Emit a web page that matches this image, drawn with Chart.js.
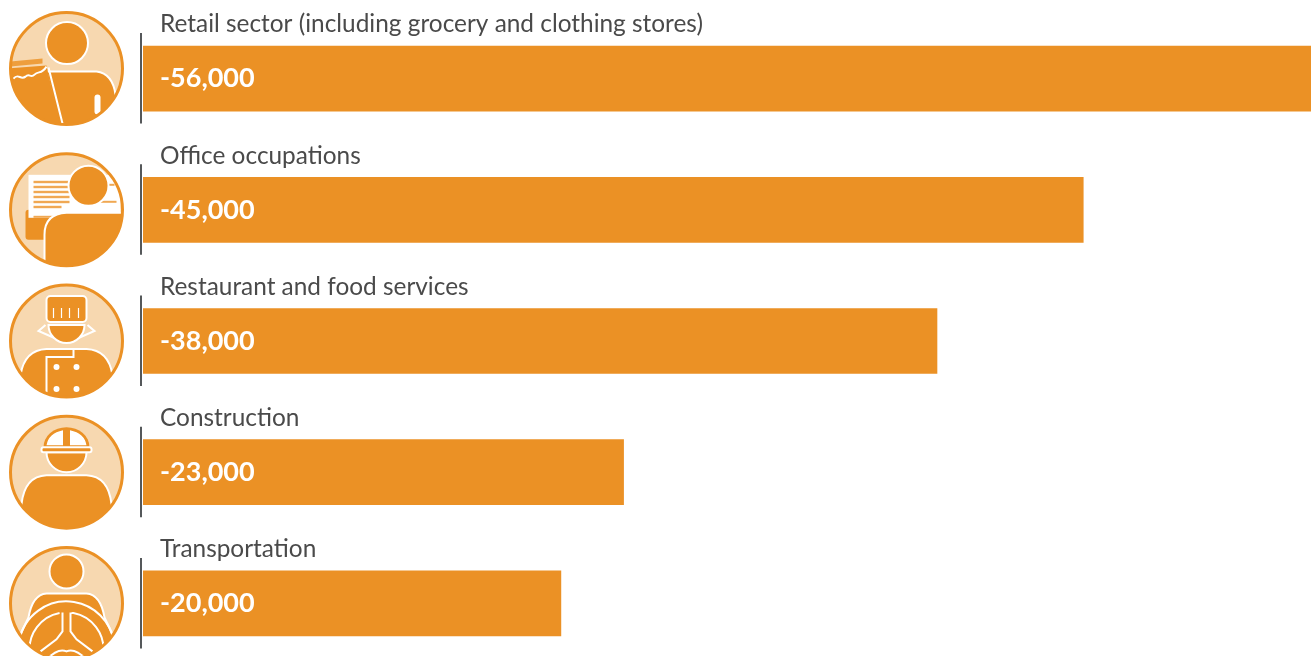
<!DOCTYPE html>
<html>
<head>
<meta charset="utf-8">
<script src="https://cdn.jsdelivr.net/npm/chart.js@4/dist/chart.umd.min.js"></script>
<style>
    html, body { margin: 0; padding: 0; background: #fff; width: 1311px; height: 656px; overflow: hidden; }
    #wrap { width: 1311px; height: 656px; overflow: hidden; }
    canvas { display: block; filter: blur(0.6px); }
</style>
</head>
<body>
<div id="wrap"><canvas id="grafico" width="1311" height="669"></canvas></div>
<script>
const categorias = [
    'Retail sector (including grocery and clothing stores)',
    'Office occupations',
    'Restaurant and food services',
    'Construction',
    'Transportation'
];
const empregos = [-56000, -45000, -38000, -23000, -20000];
const icones = ['caixa', 'escritorio', 'cozinheiro', 'obra', 'motorista'];

const LARANJA = '#eb9125';
const CLARO = '#f7d8b0';
const BRANCO = '#fff';
const TRACO = 2;

// each icon is drawn around (0,0) inside a circle of radius 57
const desenhos = {
    caixa(ctx) {
        corpo(ctx, () => {
            ctx.moveTo(-20, 3);
            ctx.lineTo(30, 3);
            ctx.quadraticCurveTo(46, 5, 49, 26);
            ctx.lineTo(60, 60);
            ctx.lineTo(-8, 60);
            ctx.closePath();
        });
        // receipt
        ctx.fillStyle = LARANJA;
        ctx.beginPath();
        ctx.moveTo(-60, 0);
        ctx.lineTo(-20, -3);
        ctx.lineTo(-6, 60);
        ctx.lineTo(-60, 60);
        ctx.closePath();
        ctx.fill();
        ctx.fillStyle = '#ee9e3d';
        ctx.beginPath();
        ctx.moveTo(-56, -7);
        ctx.lineTo(-24, -10);
        ctx.lineTo(-24, -5);
        ctx.lineTo(-56, -2);
        ctx.closePath();
        ctx.fill();
        ctx.strokeStyle = BRANCO;
        ctx.lineWidth = TRACO;
        ctx.beginPath();
        ctx.moveTo(-53, 10);
        ctx.bezierCurveTo(-48, 4, -46, 12, -41, 8);
        ctx.bezierCurveTo(-37, 4, -36, 10, -32, 6);
        ctx.bezierCurveTo(-28, 2, -25, 6, -20, -2);
        ctx.moveTo(-18, -1);
        ctx.lineTo(-4, 55);
        ctx.stroke();
        ctx.fillStyle = BRANCO;
        ctx.beginPath();
        ctx.roundRect(28, 26, 6, 20, 3);
        ctx.fill();
        cabeca(ctx, 0.5, -25.5, 21);
    },
    escritorio(ctx) {
        ctx.fillStyle = LARANJA;
        ctx.beginPath();
        ctx.roundRect(-41, 0, 34, 30, 3);
        ctx.fill();
        ctx.fillStyle = BRANCO;
        ctx.fillRect(-38, -35, 92, 43);
        ctx.fillStyle = '#f0a853';
        [-29, -24, -19, -14, -9, -4].forEach((y, i) => {
            ctx.fillRect(-33, y, i == 5 ? 28 : 36, 2.4);
        });
        ctx.fillRect(28, -9, 22, 2);
        ctx.fillRect(30, -26, 18, 2);
        ctx.fillRect(-33, 6, 20, 2);
        corpo(ctx, () => {
            ctx.moveTo(-22, 60);
            ctx.lineTo(-22, 25);
            ctx.quadraticCurveTo(-22, 4, 0, 3);
            ctx.lineTo(60, 3);
            ctx.lineTo(60, 60);
            ctx.closePath();
        });
        cabeca(ctx, 22, -24, 20);
    },
    cozinheiro(ctx) {
        corpo(ctx, () => {
            ctx.moveTo(-46, 34);
            ctx.quadraticCurveTo(-42, 9, -20, 8);
            ctx.lineTo(20, 8);
            ctx.quadraticCurveTo(42, 9, 46, 34);
            ctx.lineTo(60, 60);
            ctx.lineTo(-60, 60);
            ctx.closePath();
        });
        // collar
        ctx.strokeStyle = BRANCO;
        ctx.lineWidth = TRACO;
        ctx.beginPath();
        ctx.moveTo(-21, -16);
        ctx.lineTo(-28, -10);
        ctx.lineTo(-12, -3);
        ctx.moveTo(21, -16);
        ctx.lineTo(28, -10);
        ctx.lineTo(12, -3);
        ctx.stroke();
        // face
        ctx.fillStyle = LARANJA;
        ctx.beginPath();
        ctx.arc(0, -16, 18, 0, Math.PI);
        ctx.closePath();
        ctx.fill();
        ctx.stroke();
        // hat
        ctx.beginPath();
        ctx.roundRect(-20, -45, 40, 26, 4);
        ctx.fill();
        ctx.stroke();
        ctx.beginPath();
        [-13, -5, 3, 12].forEach(x => {
            ctx.moveTo(x, -33);
            ctx.lineTo(x, -23);
        });
        ctx.lineWidth = 1.2;
        ctx.stroke();
        // jacket
        ctx.lineWidth = TRACO;
        ctx.beginPath();
        ctx.moveTo(7, 8);
        ctx.lineTo(7, 16);
        ctx.lineTo(-20, 16);
        ctx.lineTo(-20, 56);
        ctx.stroke();
        ctx.fillStyle = BRANCO;
        [[-10, 26], [10, 26], [-10, 48], [10, 48]].forEach(([x, y]) => {
            ctx.beginPath();
            ctx.arc(x, y, 3, 0, Math.PI * 2);
            ctx.fill();
        });
    },
    obra(ctx) {
        corpo(ctx, () => {
            ctx.moveTo(-45, 32);
            ctx.quadraticCurveTo(-42, 4, -20, 3);
            ctx.lineTo(20, 3);
            ctx.quadraticCurveTo(42, 4, 45, 32);
            ctx.lineTo(60, 60);
            ctx.lineTo(-60, 60);
            ctx.closePath();
        });
        // face
        ctx.fillStyle = LARANJA;
        ctx.strokeStyle = BRANCO;
        ctx.lineWidth = TRACO;
        ctx.beginPath();
        ctx.arc(0, -20, 20, 0, Math.PI);
        ctx.closePath();
        ctx.fill();
        ctx.stroke();
        // helmet
        ctx.beginPath();
        ctx.ellipse(0, -25, 23, 20, 0, Math.PI, 0);
        ctx.closePath();
        ctx.fill();
        ctx.fillStyle = BRANCO;
        ctx.beginPath();
        ctx.moveTo(-20, -27);
        ctx.quadraticCurveTo(-18, -39, -3.5, -42);
        ctx.lineTo(-3.5, -27);
        ctx.closePath();
        ctx.moveTo(20, -27);
        ctx.quadraticCurveTo(18, -39, 3.5, -42);
        ctx.lineTo(3.5, -27);
        ctx.closePath();
        ctx.fill();
        ctx.fillStyle = LARANJA;
        ctx.beginPath();
        ctx.roundRect(-25, -25, 50, 5, 2);
        ctx.fill();
        ctx.stroke();
    },
    motorista(ctx) {
        corpo(ctx, () => {
            ctx.moveTo(-38, 14);
            ctx.quadraticCurveTo(-34, -9, -20, -10);
            ctx.lineTo(20, -10);
            ctx.quadraticCurveTo(34, -9, 38, 14);
            ctx.lineTo(60, 60);
            ctx.lineTo(-60, 60);
            ctx.closePath();
        });
        // steering wheel
        ctx.strokeStyle = BRANCO;
        ctx.lineWidth = TRACO;
        ctx.beginPath();
        ctx.arc(0, 46, 48, Math.PI * 1.05, Math.PI * 1.95);
        ctx.moveTo(-37, 50);
        ctx.arc(0, 46, 37, Math.PI * 0.97, Math.PI * 1.44);
        ctx.moveTo(5, 9.5);
        ctx.arc(0, 46, 37, Math.PI * 1.56, Math.PI * 2.03);
        ctx.moveTo(-4, 9);
        ctx.lineTo(-4, 28);
        ctx.lineTo(-10, 36);
        ctx.lineTo(-26, 48);
        ctx.moveTo(4, 9);
        ctx.lineTo(4, 28);
        ctx.lineTo(10, 36);
        ctx.lineTo(26, 48);
        ctx.moveTo(-20, 56);
        ctx.quadraticCurveTo(-8, 44, 0, 48);
        ctx.quadraticCurveTo(8, 44, 20, 56);
        ctx.stroke();
        cabeca(ctx, 0, -32, 17);
    }
};

function corpo(ctx, caminho) {
    ctx.fillStyle = LARANJA;
    ctx.strokeStyle = BRANCO;
    ctx.lineWidth = TRACO;
    ctx.beginPath();
    caminho();
    ctx.fill();
    ctx.stroke();
}

function cabeca(ctx, x, y, raio) {
    ctx.fillStyle = LARANJA;
    ctx.strokeStyle = BRANCO;
    ctx.lineWidth = TRACO;
    ctx.beginPath();
    ctx.arc(x, y, raio, 0, Math.PI * 2);
    ctx.fill();
    ctx.stroke();
}

function desenhaIcone(ctx, nome, y) {
    ctx.save();
    ctx.translate(66.5, y);
    ctx.beginPath();
    ctx.arc(0, 0, 56, 0, Math.PI * 2);
    ctx.fillStyle = CLARO;
    ctx.fill();
    ctx.clip();
    desenhos[nome](ctx);
    ctx.restore();
    ctx.save();
    ctx.translate(66.5, y);
    ctx.beginPath();
    ctx.arc(0, 0, 56, 0, Math.PI * 2);
    ctx.strokeStyle = LARANJA;
    ctx.lineWidth = 3;
    ctx.stroke();
    ctx.restore();
}

// labels, value text, the small axis pieces and the icons
const decoracao = {
    id: 'decoracao',
    afterDraw(grafico) {
        const ctx = grafico.ctx;
        const eixoY = grafico.scales.y;
        const x0 = grafico.scales.x.getPixelForValue(0);
        ctx.save();
        categorias.forEach((categoria, i) => {
            const y = eixoY.getPixelForValue(i);

            ctx.strokeStyle = '#55585a';
            ctx.lineWidth = 2;
            ctx.beginPath();
            ctx.moveTo(x0 - 2, y - 45.5);
            ctx.lineTo(x0 - 2, y + 45);
            ctx.stroke();

            ctx.textBaseline = 'middle';
            ctx.textAlign = 'left';
            ctx.fillStyle = '#4a4a4a';
            ctx.font = '24.4px Lato';
            ctx.fillText(categoria, x0 + 17, y - 54);

            ctx.fillStyle = '#fff';
            ctx.font = 'bold 27px Lato';
            ctx.fillText(empregos[i].toLocaleString('en-US'), x0 + 17, y);

            desenhaIcone(ctx, icones[i], i == 0 ? y - 10 : y);
        });
        ctx.restore();
    }
};

new Chart(document.getElementById('grafico'), {
    type: 'bar',
    data: {
        labels: categorias,
        datasets: [{
            data: empregos,
            backgroundColor: LARANJA,
            borderWidth: 0,
            barThickness: 65
        }]
    },
    options: {
        indexAxis: 'y',
        responsive: false,
        animation: false,
        layout: { padding: { left: 143, top: 13, right: 0, bottom: 0 } },
        plugins: { legend: { display: false }, tooltip: { enabled: false } },
        scales: {
            x: { display: false, reverse: true, min: -55900, max: 0 },
            y: { display: false }
        }
    },
    plugins: [decoracao]
});
</script>
</body>
</html>
